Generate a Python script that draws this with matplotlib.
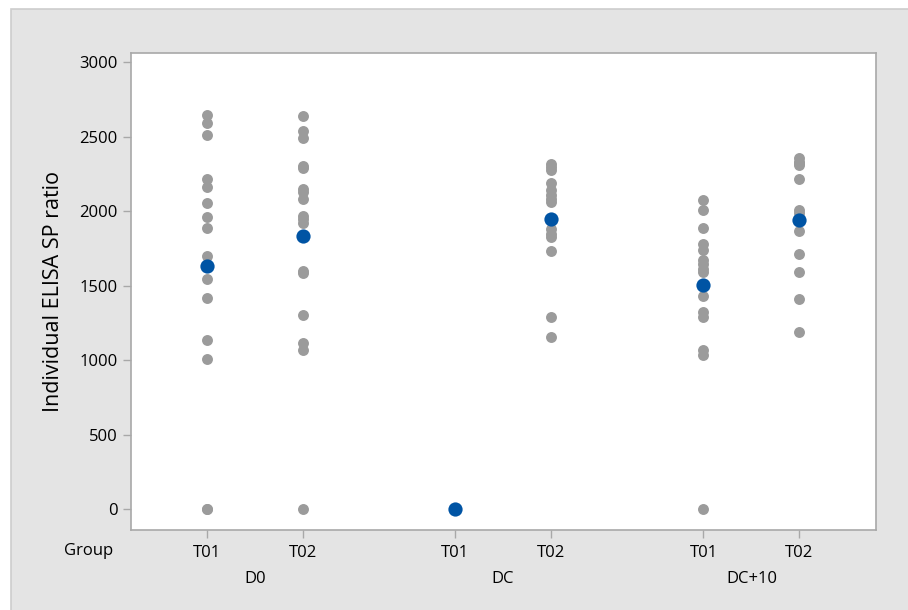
import matplotlib
matplotlib.use('Agg')
import matplotlib.pyplot as plt
from matplotlib.patches import Rectangle
from matplotlib.transforms import blended_transform_factory

plt.rcParams['font.family'] = ['Open Sans', 'DejaVu Sans']

# groups / treatments
groups = ['D0', 'DC', 'DC+10']
treatments = ['T01', 'T02']

# individual SP ratios per cell
d0_t01 = [2650, 2595, 2510, 2215, 2160, 2055, 1960, 1885, 1700, 1545, 1420, 1135, 1005, 0, 0]
d0_t02 = [2640, 2540, 2495, 2305, 2290, 2150, 2130, 2080, 1970, 1945, 1920, 1600, 1585,
          1305, 1115, 1070, 0]
dc_t01 = [0, 0, 0]
dc_t02 = [2320, 2300, 2280, 2190, 2140, 2110, 2080, 2060, 1950, 1880, 1850, 1825, 1730,
          1290, 1155]
dc10_t01 = [2075, 2010, 1885, 1780, 1740, 1675, 1645, 1615, 1590, 1500, 1430, 1325, 1290,
            1070, 1035, 0]
dc10_t02 = [2355, 2330, 2325, 2310, 2215, 2010, 1990, 1940, 1870, 1715, 1590, 1410, 1190]

cells = [d0_t01, d0_t02, dc_t01, dc_t02, dc10_t01, dc10_t02]
means = [1632, 1833, 0, 1948, 1504, 1941]

GAP = 2.59  # spacing between group blocks
xpos = [g * GAP + t for g in range(len(groups)) for t in range(len(treatments))]

fig = plt.figure(figsize=(9.08, 6.10), dpi=100)
fig.patch.set_facecolor('white')
fig.patches.append(Rectangle((0.0121, -0.01), 1.0, 0.995, transform=fig.transFigure,
                             facecolor='#e4e4e4', edgecolor='#cdcdcd', lw=1.2, zorder=-5))

ax = fig.add_axes([0.1443, 0.1311, 0.8205, 0.7815])
ax.set_zorder(2)
ax.set_facecolor('white')

for x, vals in zip(xpos, cells):
    ax.scatter([x] * len(vals), vals, s=62, color='#9b9b9b', linewidths=0, zorder=2)
ax.scatter(xpos, means, s=105, color='#0054a4', linewidths=0, zorder=3)

ax.set_xlim(-0.79, xpos[-1] + 0.80)
ax.set_ylim(-141, 3061)
ax.set_yticks([0, 500, 1000, 1500, 2000, 2500, 3000])
ax.set_xticks(xpos)
ax.set_xticklabels(treatments * len(groups))

for sp in ax.spines.values():
    sp.set_color('#a8a8a8')
    sp.set_linewidth(1.2)

ax.tick_params(axis='both', colors='#a8a8a8', labelcolor='black', labelsize=12,
               length=6, width=1)
ax.tick_params(axis='x', pad=5)
ax.set_ylabel('Individual ELISA SP ratio', fontsize=15.5, labelpad=11)

trans = blended_transform_factory(ax.transData, ax.transAxes)
for g, name in enumerate(groups):
    xm = g * GAP + 0.5
    ax.text(xm, -0.102, name, transform=trans, ha='center', va='center', fontsize=12)
ax.text(-0.024, -0.044, 'Group', transform=ax.transAxes, ha='right', va='center',
        fontsize=12)

fig.savefig('out.png', dpi=100)
